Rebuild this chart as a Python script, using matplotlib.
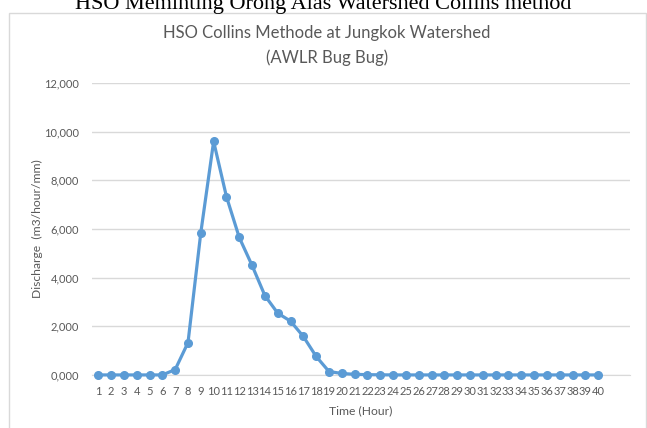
import matplotlib.pyplot as plt
from matplotlib.patches import Rectangle
from matplotlib.ticker import FuncFormatter

# hourly discharge
hours = list(range(1, 41))
discharge = [0, 0, 0, 0, 0, 0, 220, 1330, 5850, 9600,
             7330, 5650, 4500, 3260, 2540, 2210, 1580, 760, 140, 60,
             25, 10, 5, 0, 0, 0, 0, 0, 0, 0,
             0, 0, 0, 0, 0, 0, 0, 0, 0, 0]
yticks = [0, 2000, 4000, 6000, 8000, 10000, 12000]

plt.rcParams["font.family"] = ["Lato", "DejaVu Sans"]
gray = "#595959"

fig = plt.figure(figsize=(6.47, 4.28), dpi=100)
ax = fig.add_axes([0.142, 0.124, 0.832, 0.682])

ax.plot(hours, discharge, "-o", color="#5B9BD5", lw=2.3, markersize=5.5,
        zorder=3, clip_on=False)

ax.set_xlim(0.5, 42.5)
ax.set_ylim(0, 12000)
ax.set_yticks(yticks)
ax.yaxis.set_major_formatter(FuncFormatter(lambda v, p: "0,000" if v == 0 else f"{int(v):,}"))
ax.set_xticks(hours)
ax.set_xticklabels([str(h) for h in hours])
ax.tick_params(axis="both", length=0, labelsize=8, labelcolor=gray)
ax.tick_params(axis="y", pad=9)
ax.tick_params(axis="x", pad=8)
ax.grid(axis="y", color="#D9D9D9", lw=1)
ax.set_axisbelow(True)
for s in ["top", "right", "left"]:
    ax.spines[s].set_visible(False)
ax.spines["bottom"].set_color("#D9D9D9")

ax.set_ylabel("Discharge  (m3/hour/mm)", fontsize=8.7, color=gray, labelpad=1)
ax.set_xlabel("Time (Hour)", fontsize=8.7, color=gray, labelpad=6)

fig.text(0.505, 0.922, "HSO Collins Methode at Jungkok Watershed", ha="center",
         va="center", fontsize=12, color=gray)
fig.text(0.505, 0.866, "(AWLR Bug Bug)", ha="center", va="center",
         fontsize=12, color=gray)

# chart frame and the caption above it, cut by the top edge
fig.patches.append(Rectangle((0.014, -0.01), 0.984, 0.98, transform=fig.transFigure,
                             fill=False, edgecolor="#D9D9D9", lw=1))
fig.text(0.5, 0.978, "HSO Meminting Orong Alas Watershed Collins method",
         ha="center", va="baseline", fontsize=16,
         family=["Liberation Serif", "DejaVu Serif"], color="black")

fig.savefig("out.png", dpi=100)
